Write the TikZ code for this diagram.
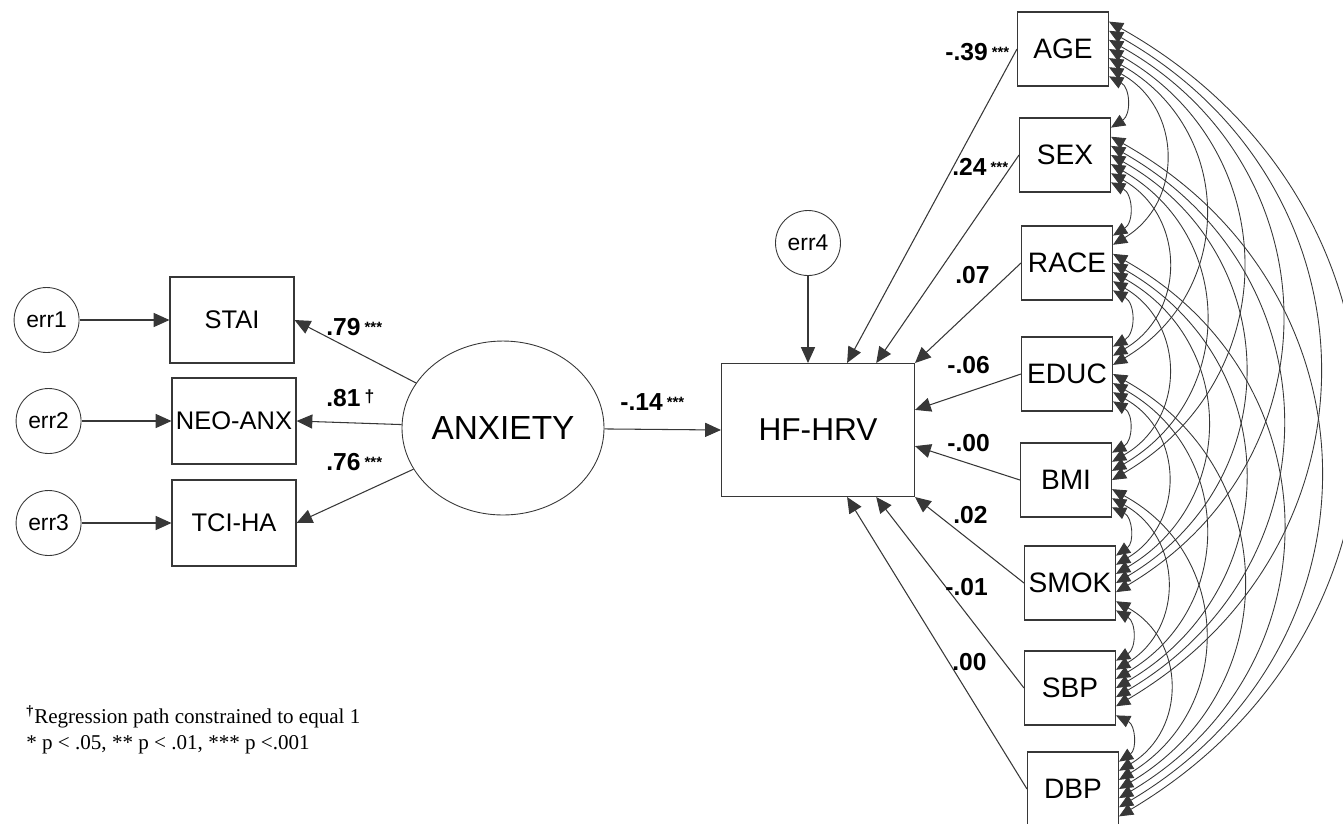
\documentclass[tikz,border=0pt]{standalone}
\usepackage{fontspec}
\setmainfont{Liberation Serif}
\newfontfamily\arialfont{Liberation Sans}
\usetikzlibrary{shapes.geometric,arrows.meta,positioning,calc}
\definecolor{cLine}{RGB}{55,55,55}
\newcommand\sigstars{\,\raisebox{1.5pt}{\fontsize{8.5}{8.5}\selectfont***}}
\newcommand\cdagger{\,\raisebox{2pt}{\fontsize{10}{10}\selectfont\textbf{†}}}
\tikzset{
  basebox/.style={rectangle,draw=cLine,line width=0.6pt,inner sep=0pt,align=center},
  obsnode/.style={basebox,minimum width=1.82cm,minimum height=1.48cm,
                  font=\arialfont\fontsize{16}{18}\selectfont},
  indnode/.style={basebox,minimum width=2.48cm,minimum height=1.72cm,
                  font=\arialfont\fontsize{14.5}{16}\selectfont},
  outnode/.style={basebox,minimum width=3.86cm,minimum height=2.66cm,
                  font=\arialfont\fontsize{18}{20}\selectfont},
  errnode/.style={circle,draw=cLine,line width=0.5pt,minimum size=1.3cm,inner sep=0pt,
                  font=\arialfont\fontsize{13}{15}\selectfont},
  latnode/.style={ellipse,draw=cLine,line width=0.5pt,minimum width=4.0cm,
                  minimum height=3.48cm,inner sep=0pt,
                  font=\arialfont\fontsize{19}{21}\selectfont},
  coef/.style={anchor=west,inner sep=0pt,font=\arialfont\bfseries\fontsize{14}{16}\selectfont},
  notetext/.style={anchor=west,inner sep=0pt,font=\fontsize{12}{14}\selectfont},
  arr/.style={->,>={Triangle[length=9pt,width=8pt]},line width=0.6pt,color=cLine},
  covarr/.style={<->,>={Triangle[length=8pt,width=7pt]},line width=0.5pt,color=cLine}
}
\begin{document}
\begin{tikzpicture}[x=0.02cm,y=-0.02cm]
  \useasboundingbox (0,0) rectangle (1343,823);

  % measurement part
  \node[indnode] (stai) at (232,320) {STAI};
  \node[indnode] (neo)  at (234,421) {NEO-ANX};
  \node[indnode] (tci)  at (234,523) {TCI-HA};
  \node[errnode, left=1.8cm of stai] (err1) {err1};
  \node[errnode, left=1.8cm of neo]  (err2) {err2};
  \node[errnode, left=1.8cm of tci]  (err3) {err3};
  \node[latnode] (anx) at (503,428) {ANXIETY};

  % outcome
  \node[outnode] (hf) at (818,430) {HF-HRV};
  \node[errnode] (err4) at (808,243) {err4};

  % covariates
  \node[obsnode] (age)  at (1063,49)  {AGE};
  \node[obsnode] (sex)  at (1065,155) {SEX};
  \node[obsnode] (race) at (1067,263) {RACE};
  \node[obsnode] (educ) at (1067,374) {EDUC};
  \node[obsnode] (bmi)  at (1066,480) {BMI};
  \node[obsnode] (smok) at (1070,583) {SMOK};
  \node[obsnode] (sbp)  at (1070,688) {SBP};
  \node[obsnode] (dbp)  at (1073,789) {DBP};

  \draw[arr] (err1) -- (stai);
  \draw[arr] (err2) -- (neo);
  \draw[arr] (err3) -- (tci);
  \draw[arr] (anx) -- (stai.east);
  \draw[arr] (anx) -- (neo.east);
  \draw[arr] (anx) -- (tci.east);
  \draw[arr] (anx) -- (hf.west);
  \draw[arr] (err4) -- (err4 |- hf.north);

  \draw[arr] (age.west)  -- ($(hf.north west)!0.65!(hf.north east)$);
  \draw[arr] (sex.west)  -- ($(hf.north west)!0.80!(hf.north east)$);
  \draw[arr] (race.west) -- (hf.north east);
  \draw[arr] (educ.west) -- ($(hf.north east)!0.35!(hf.south east)$);
  \draw[arr] (bmi.west)  -- ($(hf.north east)!0.62!(hf.south east)$);
  \draw[arr] (smok.west) -- (hf.south east);
  \draw[arr] (sbp.west)  -- ($(hf.south west)!0.80!(hf.south east)$);
  \draw[arr] (dbp.west)  -- ($(hf.south west)!0.65!(hf.south east)$);

  % covariances between all covariates
  \foreach \i/\na in {1/age,2/sex,3/race,4/educ,5/bmi,6/smok,7/sbp,8/dbp}{
    \foreach \j/\nb in {1/age,2/sex,3/race,4/educ,5/bmi,6/smok,7/sbp,8/dbp}{
      \ifnum\j>\i\relax
        \pgfmathsetmacro\fa{(10+9*(7+\i-\j))/74}
        \pgfmathsetmacro\fb{(10+9*(\j-1-\i))/74}
        \draw[covarr] ($(\na.north east)!\fa!(\na.south east)$)
          to[bend left=60,looseness=1.2] ($(\nb.north east)!\fb!(\nb.south east)$);
      \fi
    }
  }

  % coefficients
  \node[coef] (c-stai) at (326,327) {.79\sigstars};
  \node[coef] (c-neo)  at (326,398) {.81\cdagger};
  \node[coef] (c-tci)  at (326,462) {.76\sigstars};
  \node[coef] (c-hf)   at (620,402) {-.14\sigstars};
  \node[coef] (c-age)  at (945,52)  {-.39\sigstars};
  \node[coef] (c-sex)  at (952,167) {.24\sigstars};
  \node[coef] (c-race) at (955,275) {.07};
  \node[coef] (c-educ) at (947,365) {-.06};
  \node[coef] (c-bmi)  at (947,443) {-.00};
  \node[coef] (c-smok) at (953,515) {.02};
  \node[coef] (c-sbp)  at (945,587) {-.01};
  \node[coef] (c-dbp)  at (952,662) {.00};

  % notes
  \node[notetext] (note1) at (26,717) {\textsuperscript{\textbf{†}}Regression path constrained to equal 1};
  \node[notetext] (note2) at (26,745) {* p < .05, ** p < .01, *** p <.001};
\end{tikzpicture}
\end{document}
